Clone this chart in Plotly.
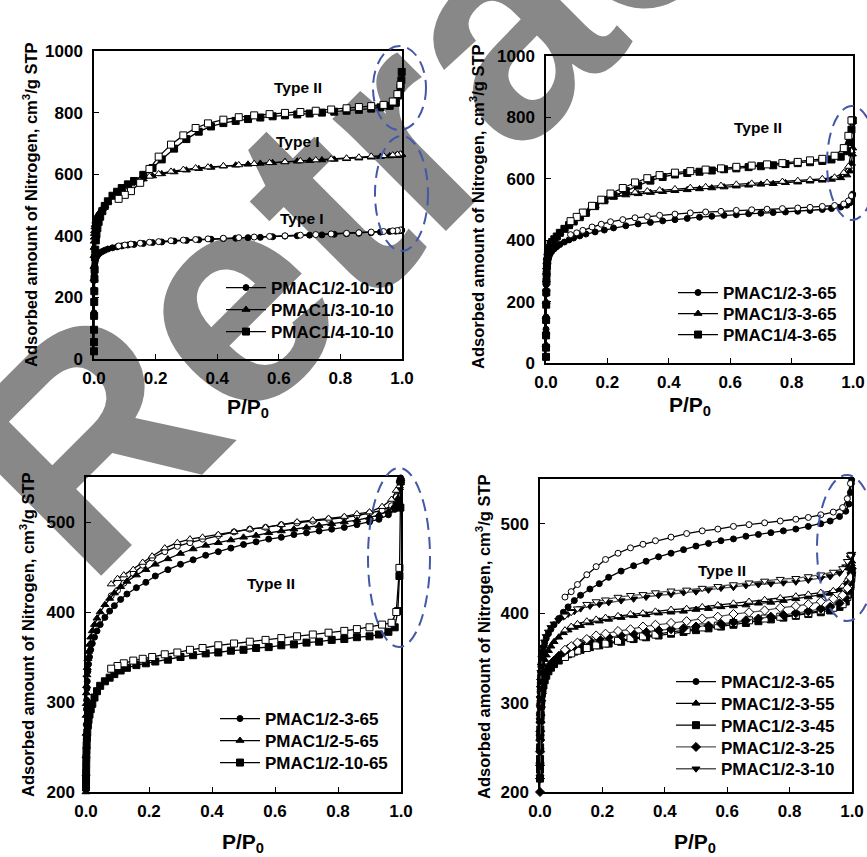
import plotly.graph_objects as go

# ---------------- data ----------------
X_ADS = [0.00005, 0.0001, 0.0002, 0.0004, 0.0007, 0.001, 0.0015, 0.002, 0.003, 0.004,
         0.006, 0.008, 0.011, 0.015, 0.02, 0.027, 0.035, 0.045, 0.06, 0.075,
         0.09, 0.11, 0.13, 0.16, 0.19, 0.22, 0.26, 0.3, 0.34, 0.38,
         0.42, 0.46, 0.5, 0.54, 0.58, 0.62, 0.66, 0.7, 0.74, 0.78,
         0.82, 0.86, 0.9, 0.93, 0.96, 0.98, 0.99, 0.995, 0.998, 0.999]
X_DES = [0.995, 0.985, 0.97, 0.94, 0.9, 0.86, 0.82, 0.77, 0.72, 0.67,
         0.62, 0.57, 0.52, 0.47, 0.42, 0.37, 0.33, 0.29, 0.25, 0.21,
         0.18, 0.15, 0.12, 0.1, 0.08]

# Panel 1: PMAC-10-10
P1_12_ADS = [150, 190, 225, 255, 275, 287, 297, 304, 312, 318, 326, 331, 336, 341, 345, 349, 353, 357, 361, 364,
             367, 370, 372, 375, 378, 380, 383, 385, 387, 389, 391, 392, 394, 395, 397, 399, 400, 402, 403, 405,
             407, 408, 410, 412, 414, 415, 416, 417, 418, 418]
P1_12_DES = [419, 417, 416, 414, 412, 410, 408, 406, 404, 402, 400, 398, 396, 394, 392, 390, 388, 386, 384, 381,
             379, 376, 373, 370, 367]
P1_13_ADS = [260, 300, 335, 362, 382, 395, 407, 416, 428, 436, 447, 455, 463, 471, 478, 488, 498, 510, 527, 540,
             551, 563, 572, 584, 594, 601, 607, 613, 618, 622, 626, 629, 632, 635, 637, 640, 642, 644, 646, 648,
             650, 652, 655, 657, 659, 660, 661, 662, 663, 664]
P1_13_DES = [665, 664, 662, 660, 658, 655, 652, 649, 646, 643, 640, 637, 634, 630, 627, 623, 620, 615, 609, 601,
             593, 582, 568, 558, 546]
P1_14_ADS = [25, 55, 95, 140, 185, 220, 260, 290, 330, 355, 385, 405, 425, 445, 462, 480, 497, 512, 530, 543,
             555, 567, 578, 598, 620, 648, 683, 714, 738, 755, 766, 773, 779, 784, 788, 791, 794, 797, 800, 803,
             806, 809, 813, 817, 822, 832, 856, 880, 905, 932]
P1_14_DES = [890, 860, 836, 825, 821, 818, 814, 810, 806, 802, 799, 795, 791, 785, 777, 765, 750, 726, 696, 657,
             617, 572, 545, 533, 520]

# Panel 2: PMAC-3-65
P2_12_ADS = [110, 150, 190, 225, 255, 275, 292, 302, 315, 323, 334, 342, 350, 358, 365, 372, 379, 386, 394, 401,
             407, 414, 420, 427, 433, 440, 447, 453, 458, 463, 467, 471, 475, 478, 481, 483, 486, 488, 490, 492,
             494, 497, 500, 503, 508, 514, 522, 535, 545, 550]
P2_12_DES = [545, 528, 518, 513, 510, 507, 505, 503, 501, 499, 497, 494, 492, 489, 485, 481, 477, 473, 467, 460,
             452, 443, 432, 424, 418]
P2_13_ADS = [60, 100, 150, 200, 240, 270, 295, 312, 330, 343, 358, 368, 378, 388, 395, 403, 411, 425, 438, 450,
             462, 476, 490, 512, 530, 540, 547, 551, 555, 558, 561, 564, 567, 570, 573, 576, 579, 582, 584, 587,
             589, 592, 595, 598, 603, 612, 625, 650, 680, 700]
P2_13_DES = [690, 640, 620, 605, 600, 597, 594, 591, 588, 585, 582, 578, 574, 571, 567, 563, 560, 556, 551, 543,
             530, 512, 490, 476, 462]
P2_14_ADS = [20, 50, 90, 140, 190, 230, 265, 290, 315, 332, 350, 362, 374, 385, 394, 403, 412, 424, 437, 449,
             461, 475, 489, 511, 530, 545, 560, 578, 594, 606, 614, 619, 623, 627, 631, 634, 638, 641, 644, 648,
             651, 654, 658, 663, 672, 690, 720, 760, 790, 790]
P2_14_DES = [790, 740, 700, 675, 665, 660, 655, 651, 647, 643, 639, 634, 630, 625, 620, 612, 602, 588, 570, 552,
             532, 512, 490, 476, 462]

# Panel 3: PMAC1/2-x-65
P3_3_ADS = [205, 212, 222, 240, 258, 275, 292, 302, 315, 323, 334, 342, 350, 358, 365, 372, 379, 386, 394, 401,
            407, 414, 420, 427, 433, 440, 447, 453, 458, 463, 467, 471, 475, 478, 481, 483, 486, 488, 490, 492,
            494, 497, 500, 503, 508, 514, 522, 535, 545, 549]
P3_3_DES = P2_12_DES
P3_5_ADS = [200, 220, 240, 265, 285, 298, 310, 318, 330, 338, 348, 356, 364, 372, 379, 386, 393, 400, 408, 415,
            421, 428, 434, 441, 447, 453, 459, 465, 470, 474, 477, 480, 483, 485, 488, 490, 492, 494, 496, 498,
            500, 502, 505, 508, 512, 518, 526, 538, 546, 548]
P3_5_DES = [540, 535, 525, 517, 511, 509, 506, 504, 502, 500, 497, 494, 492, 489, 486, 483, 481, 477, 471, 462,
            455, 447, 441, 437, 431]
P3_10_ADS = [205, 210, 216, 222, 230, 238, 246, 252, 260, 266, 274, 280, 286, 292, 298, 305, 312, 318, 323, 327,
             331, 335, 338, 341, 343, 345, 347, 350, 352, 354, 355, 357, 358, 360, 361, 363, 364, 366, 367, 369,
             370, 372, 373, 375, 378, 383, 401, 440, 516, 545]
P3_10_DES = [449, 400, 388, 386, 383, 381, 379, 377, 375, 373, 371, 369, 367, 365, 363, 360, 358, 355, 353, 350,
             348, 346, 343, 340, 337]

# Panel 4: PMAC1/2-3-x
P4_65_ADS = [300, 306, 312, 318, 322, 326, 330, 334, 340, 345, 352, 357, 362, 367, 372, 377, 382, 387, 394, 401,
             407, 414, 420, 427, 433, 440, 447, 453, 458, 463, 467, 471, 475, 478, 481, 483, 486, 488, 490, 492,
             494, 497, 500, 503, 508, 514, 522, 535, 545, 549]
P4_65_DES = P2_12_DES
P4_55_ADS = [220, 235, 250, 265, 280, 290, 300, 307, 316, 322, 330, 336, 342, 348, 353, 358, 363, 368, 373, 378,
             381, 384, 386, 389, 391, 393, 395, 397, 398, 400, 401, 402, 404, 405, 407, 408, 409, 411, 412, 414,
             416, 418, 420, 422, 426, 432, 440, 450, 455, 458]
P4_55_DES = [452, 437, 430, 425, 423, 421, 419, 417, 415, 413, 411, 409, 407, 405, 404, 402, 400, 399, 397, 395,
             393, 391, 388, 385, 381]
P4_45_ADS = [215, 225, 237, 250, 262, 270, 280, 287, 296, 302, 310, 315, 320, 325, 330, 335, 339, 343, 347, 351,
             354, 357, 359, 362, 364, 366, 368, 371, 373, 375, 377, 379, 381, 383, 385, 387, 389, 391, 393, 395,
             397, 399, 401, 403, 407, 413, 421, 430, 440, 445]
P4_45_DES = [432, 418, 410, 406, 403, 400, 398, 396, 394, 392, 389, 386, 384, 381, 379, 376, 374, 372, 369, 366,
             364, 361, 358, 355, 351]
P4_25_ADS = [200, 215, 230, 245, 258, 268, 278, 286, 295, 302, 310, 316, 322, 328, 333, 338, 343, 347, 352, 356,
             360, 363, 366, 369, 371, 373, 375, 377, 379, 381, 382, 383, 385, 386, 388, 390, 392, 394, 396, 398,
             400, 402, 405, 407, 411, 417, 425, 435, 445, 450]
P4_25_DES = [440, 428, 420, 416, 413, 410, 408, 406, 403, 401, 399, 396, 394, 391, 389, 387, 385, 382, 380, 377,
             375, 371, 367, 363, 359]
P4_10_ADS = [230, 245, 262, 280, 295, 305, 316, 324, 334, 341, 350, 356, 362, 368, 374, 379, 384, 388, 392, 396,
             399, 402, 405, 408, 410, 412, 414, 416, 418, 420, 421, 423, 424, 426, 428, 429, 431, 432, 433, 434,
             435, 437, 439, 441, 445, 452, 458, 462, 464, 466]
P4_10_DES = [465, 458, 450, 446, 443, 441, 439, 438, 436, 434, 432, 430, 428, 426, 425, 423, 421, 420, 418, 415,
             413, 410, 405, 401, 397]

X_TICKS = [0.0, 0.2, 0.4, 0.6, 0.8, 1.0]
Y_TICKS_TOP = [0, 200, 400, 600, 800, 1000]
Y_TICKS_BOT = [200, 300, 400, 500]

PANEL1 = [("PMAC1/2-10-10", "circle", P1_12_ADS, P1_12_DES),
          ("PMAC1/3-10-10", "triangle-up", P1_13_ADS, P1_13_DES),
          ("PMAC1/4-10-10", "square", P1_14_ADS, P1_14_DES)]
PANEL2 = [("PMAC1/2-3-65", "circle", P2_12_ADS, P2_12_DES),
          ("PMAC1/3-3-65", "triangle-up", P2_13_ADS, P2_13_DES),
          ("PMAC1/4-3-65", "square", P2_14_ADS, P2_14_DES)]
PANEL3 = [("PMAC1/2-3-65", "circle", P3_3_ADS, P3_3_DES),
          ("PMAC1/2-5-65", "triangle-up", P3_5_ADS, P3_5_DES),
          ("PMAC1/2-10-65", "square", P3_10_ADS, P3_10_DES)]
PANEL4 = [("PMAC1/2-3-65", "circle", P4_65_ADS, P4_65_DES),
          ("PMAC1/2-3-55", "triangle-up", P4_55_ADS, P4_55_DES),
          ("PMAC1/2-3-45", "square", P4_45_ADS, P4_45_DES),
          ("PMAC1/2-3-25", "diamond", P4_25_ADS, P4_25_DES),
          ("PMAC1/2-3-10", "triangle-down", P4_10_ADS, P4_10_DES)]

# ---------------- figure ----------------
W, H = 867, 857
FONT = "Liberation Sans, Arial, sans-serif"

def px(x):
    return x / W

def py(y):
    return 1 - y / H

fig = go.Figure()

# legend rows: (line-start x, row-centre y, row step) for each panel, in pixels
LEG_POS = [(224, 288, 22), (676, 293, 21), (218, 719, 22), (674, 682, 21.8)]
panels = [(PANEL1, "x", "y"), (PANEL2, "x2", "y2"), (PANEL3, "x3", "y3"), (PANEL4, "x4", "y4")]
SIZES = {"circle": 6, "triangle-up": 7, "square": 7, "diamond": 7, "triangle-down": 7}
legfont = dict(family=FONT, size=17, color="black", weight="bold")
legends = {}
li = 0
for pi, (series, xa, ya) in enumerate(panels):
    lx, ly, ls = LEG_POS[pi]
    for si, (name, sym, yads, ydes) in enumerate(series):
        li += 1
        lname = "legend" if li == 1 else "legend%d" % li
        legends[lname] = dict(x=px(lx - 3), y=py(ly + si * ls), xanchor="left", yanchor="middle",
                              bgcolor="rgba(0,0,0,0)", font=legfont, itemwidth=40,
                              borderwidth=0)
        lc = "#555555" if sym in ("diamond", "triangle-down") else "black"
        sz = SIZES[sym]
        fig.add_trace(go.Scatter(
            x=X_ADS, y=yads, mode="lines+markers", name=name, xaxis=xa, yaxis=ya,
            legend=lname, cliponaxis=False,
            line=dict(color=lc, width=1.3),
            marker=dict(symbol=sym, size=sz, color="black", line=dict(color="black", width=1))))
        fig.add_trace(go.Scatter(
            x=X_DES, y=ydes, mode="lines+markers", name=name, xaxis=xa, yaxis=ya,
            showlegend=False, cliponaxis=False,
            line=dict(color=lc, width=1.3),
            marker=dict(symbol=sym, size=sz, color="white", line=dict(color="black", width=1))))

domains = {
    "": ([94, 402], [51, 359]),
    "2": ([546, 853], [56, 363]),
    "3": ([86, 401], [477, 792]),
    "4": ([540, 852], [479, 792]),
}
tickfont = dict(family=FONT, size=17, color="black", weight="bold")
axis_common = dict(showline=True, mirror=True, linecolor="black", linewidth=1.5,
                   ticks="inside", ticklen=5, tickwidth=1, tickcolor="black",
                   showgrid=False, zeroline=False, tickfont=tickfont, automargin=False)
layout_axes = {}
for k, (xd, yd) in domains.items():
    xr = [px(xd[0]), px(xd[1])]
    yr = [py(yd[1]), py(yd[0])]
    xa = "x" + k if k else "x"
    ya = "y" + k if k else "y"
    layout_axes["xaxis" + k] = dict(domain=xr, anchor=ya, range=[0, 1.0], tickvals=X_TICKS,
                                    ticktext=["%.1f" % v for v in X_TICKS], ticklabelstandoff=3,
                                    **axis_common)
    if k in ("", "2"):
        layout_axes["yaxis" + k] = dict(domain=yr, anchor=xa, range=[0, 1000], tickvals=Y_TICKS_TOP,
                                        ticklabelstandoff=6, **axis_common)
    else:
        layout_axes["yaxis" + k] = dict(domain=yr, anchor=xa, range=[200, 550], tickvals=Y_TICKS_BOT,
                                        ticklabelstandoff=6, **axis_common)

ytitle = "Adsorbed amount of Nitrogen, cm<sup>3</sup>/g STP"
xtitle = "P/P<sub>0</sub>"
annots = []
for (x, y) in [(30, 205), (477, 207), (27, 635), (483, 637)]:
    annots.append(dict(text=ytitle, x=px(x), y=py(y), xref="paper", yref="paper", showarrow=False,
                       textangle=-90, xanchor="center", yanchor="middle",
                       font=dict(family=FONT, size=16.5, color="black", weight="bold")))
for (x, y) in [(248, 408), (690, 406), (243, 843), (695, 843)]:
    annots.append(dict(text=xtitle, x=px(x), y=py(y), xref="paper", yref="paper", showarrow=False,
                       xanchor="center", yanchor="middle",
                       font=dict(family=FONT, size=21, color="black", weight="bold")))
for (t, x, y) in [("Type II", 298, 88), ("Type I", 298, 141), ("Type I", 302, 218),
                  ("Type II", 758, 127), ("Type II", 271, 583), ("Type II", 722, 570)]:
    annots.append(dict(text=t, x=px(x), y=py(y), xref="paper", yref="paper", showarrow=False,
                       xanchor="center", yanchor="middle",
                       font=dict(family=FONT, size=15.5, color="black", weight="bold")))

shapes = []
# watermark (below the data)
shapes.append(dict(type="line", xref="paper", yref="paper", layer="below",
                   x0=px(414), y0=py(74), x1=px(556), y1=py(-68),
                   line=dict(color="rgba(0,0,0,0)", width=0),
                   label=dict(text="Retracted", textangle=-45, textposition="middle",
                              xanchor="center", yanchor="middle",
                              font=dict(family=FONT, size=302, color="#888888", weight="bold"))))
for (x0, y0, x1, y1) in [(373, 46, 426, 130), (375, 136, 428, 251), (827, 106, 877, 220),
                         (368, 468, 430, 647), (817, 475, 877, 621)]:
    shapes.append(dict(type="circle", xref="paper", yref="paper", layer="above",
                       x0=px(x0), x1=px(x1), y0=py(y1), y1=py(y0),
                       line=dict(color="#4458a8", width=2, dash="12px,7px")))

fig.update_layout(
    width=W, height=H, margin=dict(l=0, r=0, t=0, b=0, autoexpand=False),
    paper_bgcolor="white", plot_bgcolor="rgba(0,0,0,0)",
    font=dict(family=FONT, color="black"),
    annotations=annots, shapes=shapes,
    **legends,
    **layout_axes,
)
fig.write_html("out.html", config={"displayModeBar": False},
               post_script="document.body.style.margin='0px';")
